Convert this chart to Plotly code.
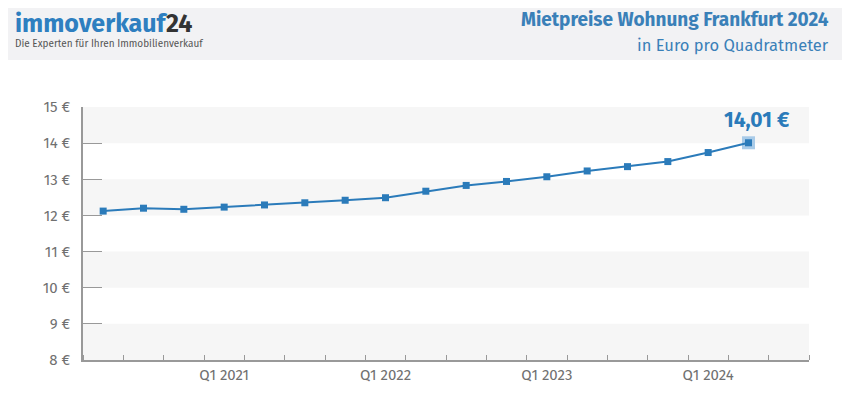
import plotly.graph_objects as go

quarters = ["Q2 2020", "Q3 2020", "Q4 2020", "Q1 2021", "Q2 2021", "Q3 2021", "Q4 2021",
            "Q1 2022", "Q2 2022", "Q3 2022", "Q4 2022", "Q1 2023", "Q2 2023", "Q3 2023",
            "Q4 2023", "Q1 2024", "Q2 2024"]
prices = [12.12, 12.20, 12.17, 12.23, 12.29, 12.35, 12.42, 12.49, 12.67, 12.83, 12.94,
          13.07, 13.23, 13.35, 13.49, 13.74, 14.01]
label_quarters = ["Q1 2021", "Q1 2022", "Q1 2023", "Q1 2024"]
y_ticks = [8, 9, 10, 11, 12, 13, 14, 15]

blue = "#2b7bba"
grey = "#707070"
font = "Fira Sans, Noto Sans, sans-serif"

x = list(range(len(quarters)))
label_pos = [quarters.index(q) for q in label_quarters]

fig = go.Figure()
fig.add_trace(go.Scatter(x=x[-1:], y=prices[-1:], mode="markers",
                         marker=dict(symbol="square", size=13, color="#a9cbe8"),
                         hoverinfo="skip", showlegend=False))
fig.add_trace(go.Scatter(x=x, y=prices, mode="lines+markers",
                         line=dict(color=blue, width=2),
                         marker=dict(symbol="square", size=7, color=blue),
                         showlegend=False))

# alternating bands
for lo in y_ticks[:-1]:
    if lo % 2 == 0:
        fig.add_shape(type="rect", xref="paper", x0=0, x1=1, y0=lo, y1=lo + 1,
                      fillcolor="#f6f6f6", line_width=0, layer="below")

# header band
fig.add_shape(type="rect", xref="paper", yref="paper", x0=-0.2, x1=1.2, y0=1.186, y1=1.5,
              fillcolor="#f2f2f4", line_width=0, layer="below")

fig.add_annotation(xref="paper", yref="paper", x=-0.097, y=1.328, xanchor="left", yanchor="middle",
                   text="<b><span style='color:#2e7fc0'>immoverkauf</span>"
                        "<span style='color:#333'>24</span></b>",
                   showarrow=False, font=dict(family=font, size=25))
fig.add_annotation(xref="paper", yref="paper", x=-0.097, y=1.248, xanchor="left", yanchor="middle",
                   text="Die Experten für Ihren Immobilienverkauf", showarrow=False,
                   font=dict(family=font, size=10, color="#555"))
fig.add_annotation(xref="paper", yref="paper", x=1.03, y=1.344, xanchor="right", yanchor="middle",
                   text="<b>Mietpreise Wohnung Frankfurt 2024</b>", showarrow=False,
                   font=dict(family=font, size=19, color="#3a80b8"))
fig.add_annotation(xref="paper", yref="paper", x=1.03, y=1.245, xanchor="right", yanchor="middle",
                   text="in Euro pro Quadratmeter", showarrow=False,
                   font=dict(family=font, size=16.5, color="#3a80b8"))

fig.add_annotation(x=x[-1], y=prices[-1], text="<b>" + f"{prices[-1]:.2f}".replace(".", ",") + " €</b>",
                   showarrow=False, yshift=23, xshift=8,
                   font=dict(family=font, size=21, color=blue))

fig.update_layout(
    width=842, height=409,
    margin=dict(l=75, r=41, t=99, b=57),
    paper_bgcolor="white", plot_bgcolor="white",
    font=dict(family=font, color=grey, size=15),
    xaxis=dict(range=[-0.5, 17.5], tickvals=label_pos, ticktext=label_quarters,
               ticks="", showgrid=False, zeroline=False,
               showline=True, linecolor="#999", linewidth=1.5,
               minor=dict(tickvals=[i + 0.5 for i in range(-1, 18)], ticks="inside",
                          ticklen=5, tickcolor="#999", showgrid=False),
               tickfont=dict(size=15, color=grey)),
    yaxis=dict(range=[8, 15], tickvals=y_ticks, ticktext=[f"{v} €" for v in y_ticks],
               ticks="inside", ticklen=19, tickcolor="#999", tickwidth=1,
               showgrid=False, zeroline=False, showline=True, linecolor="#999", linewidth=1.5,
               ticklabelstandoff=8, tickfont=dict(size=15, color=grey)),
)

fig.write_html("out.html")
